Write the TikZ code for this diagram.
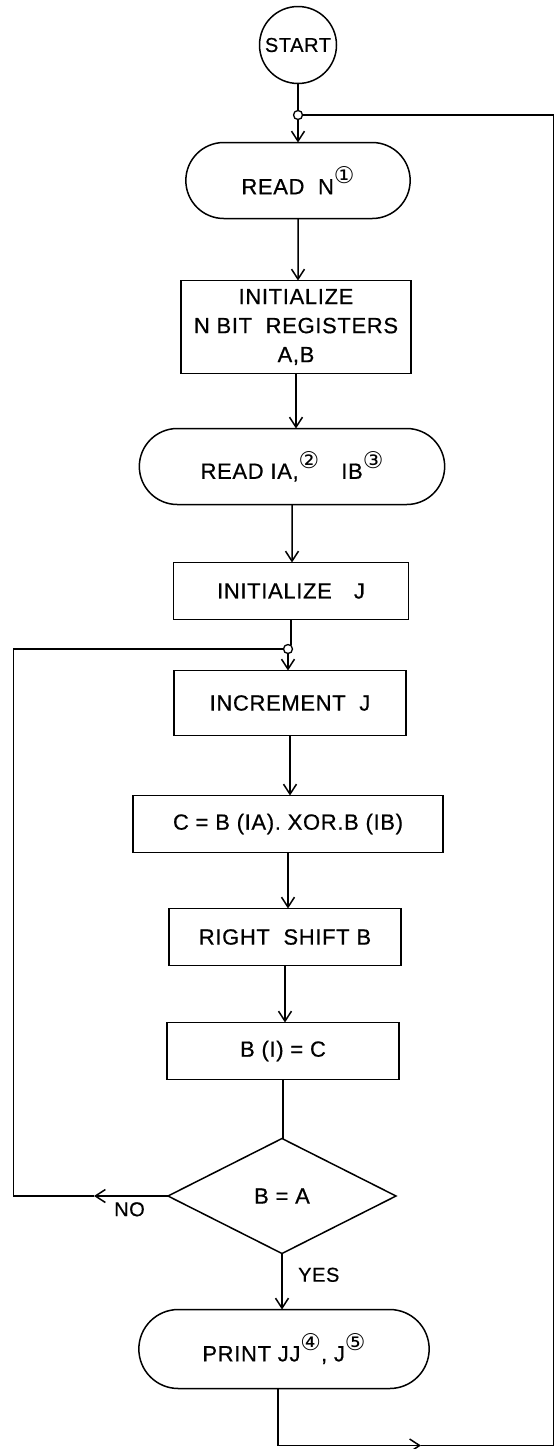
\documentclass[tikz,border=0pt]{standalone}
\usepackage{fontspec}
\setmainfont{Liberation Sans}[LetterSpace=3, FakeBold=0.6]
\newfontfamily\circfont{DejaVu Sans}
\usetikzlibrary{shapes.geometric, shapes.misc, arrows.meta, positioning}
\newcommand{\cnum}[1]{\raisebox{0.9ex}{\circfont\fontsize{23}{23}\selectfont #1}}

\begin{document}
\begin{tikzpicture}[
    every node/.style={font=\fontsize{22}{29}\selectfont},
    terminal/.style={rounded rectangle, draw, line width=1.5pt, outer sep=0pt, minimum height=76pt, align=center},
    process/.style={rectangle, draw, line width=1.5pt, outer sep=0pt, minimum width=232pt, minimum height=57pt, align=center},
    decision/.style={diamond, draw, line width=1.5pt, outer sep=0pt, minimum width=228pt, minimum height=115pt, inner sep=0pt},
    startstop/.style={circle, draw, line width=1.5pt, outer sep=0pt, minimum size=77pt, inner sep=0pt, font=\fontsize{20}{22}\selectfont},
    junction/.style={circle, draw, fill=white, line width=1.3pt, outer sep=0pt, minimum size=9pt, inner sep=0pt},
    arrow/.style={-{Straight Barb[length=10pt, width=13pt]}, line width=1.5pt},
    line/.style={line width=1.5pt},
    label/.style={inner sep=1pt, font=\fontsize{20}{22}\selectfont},
]
\useasboundingbox (0,0) rectangle (558pt,-1449pt);

\node[startstop] (start) at (298pt,-45pt) {START};
\node[junction, below=27pt of start] (jtop) {};
\node[terminal, minimum width=231pt, below=23pt of jtop] (readn) {READ\ \ N\cnum{①}};
\node[process, minimum width=230pt, minimum height=93pt, below=62pt of readn, xshift=-2pt] (init)
    {INITIALIZE\\N\ BIT\ \ REGISTERS\\A,B};
\node[terminal, minimum width=312pt, below=55pt of init, xshift=-4pt] (readia) {READ\ IA,\cnum{②}\quad IB\cnum{③}};
\node[process, minimum width=235pt, below=58pt of readia, xshift=-1pt] (initj) {INITIALIZE\quad J};
\node[junction, below=25pt of initj, xshift=-3pt] (jmid) {};
\node[process, minimum height=65pt, below=17pt of jmid, xshift=2pt] (inc) {INCREMENT\ \ J};
\node[process, minimum width=310pt, below=60pt of inc, xshift=-2pt] (xor) {C = B (IA). XOR.B (IB)};
\node[process, below=56pt of xor, xshift=-3pt] (shift) {RIGHT\ \ SHIFT B};
\node[process, below=57pt of shift, xshift=-2pt] (setb) {B (I) = C};
\node[decision, below=59pt of setb, xshift=-1pt] (test) {B = A};
\node[terminal, minimum width=297pt, minimum height=79pt, below=56pt of test, xshift=2pt] (print)
    {PRINT JJ\cnum{④}, J\cnum{⑤}};

\node[label, below left=5pt and 22pt of test.west] (no) {NO};
\node[label, below right=13pt and 15pt of test.south] (yes) {YES};

% main flow
\draw[line] (start) -- (start |- jtop.north);
\draw[arrow] (jtop) -- (jtop |- readn.north);
\draw[arrow] (readn) -- (readn |- init.north);
\draw[arrow] (init) -- (init |- readia.north);
\draw[arrow] (readia) -- (readia |- initj.north);
\draw[line] (initj) -- (initj |- jmid.north);
\draw[arrow] (jmid) -- (jmid |- inc.north);
\draw[arrow] (inc) -- (inc |- xor.north);
\draw[arrow] (xor) -- (xor |- shift.north);
\draw[arrow] (shift) -- (shift |- setb.north);
\draw[line] (setb) -- (setb |- test.north);
\draw[arrow] (test) -- (test |- print.north);

% loop back on NO
\coordinate[left=74pt of test.west] (narrow);
\coordinate[left=270pt of jmid] (ltrack);
\draw[arrow] (test.west) -- (narrow);
\draw[line] (narrow) -| (ltrack) -- (jmid);

% return to the top
\coordinate[below=57pt of print, xshift=-6pt] (pbot);
\coordinate[right=143pt of pbot] (barrow);
\coordinate[right=251pt of jtop] (rtrack);
\draw[arrow] (print.south -| pbot) -- (pbot) -- (barrow);
\draw[line] (barrow) -| (rtrack) -- (jtop);

\end{tikzpicture}
\end{document}
